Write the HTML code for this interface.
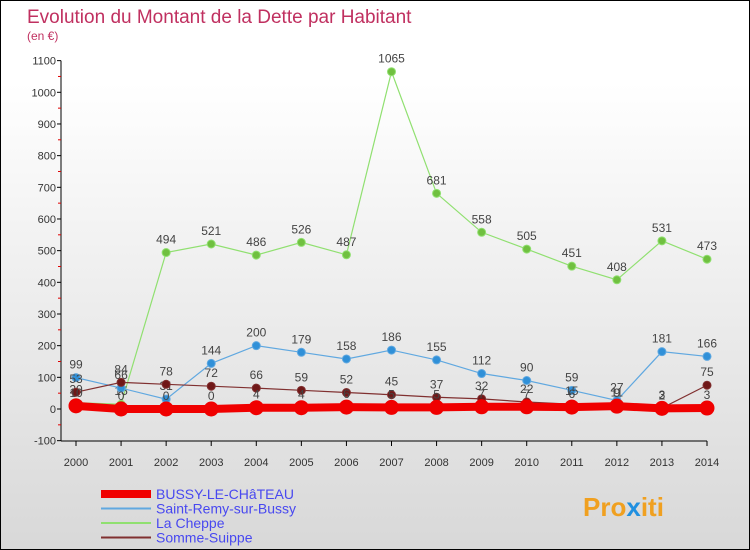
<!DOCTYPE html>
<html><head><meta charset="utf-8"><style>
body{margin:0}
#c{width:750px;height:550px;position:relative;box-sizing:border-box;border:1px solid #000;background:linear-gradient(#fff,#fff 15%,#d8d8d8);font-family:"Liberation Sans",sans-serif;overflow:hidden}
</style></head><body>
<div id="c">
<svg id="s" width="748" height="548" xmlns="http://www.w3.org/2000/svg">
<text x="26" y="22" font-size="19" fill="#c03060">Evolution du Montant de la Dette par Habitant</text>
<text x="26" y="39" font-size="12" fill="#c03060">(en €)</text>
<g id="axes"></g><g id="series"></g><g id="legend"></g>
<text x="582" y="515" font-size="26" font-weight="bold" fill="#f0a020">Pro<tspan fill="#2090e0">x</tspan>iti</text>
</svg></div>
<script>
const years=[2000,2001,2002,2003,2004,2005,2006,2007,2008,2009,2010,2011,2012,2013,2014];
const yTicks=[-100,0,100,200,300,400,500,600,700,800,900,1000,1100];
const seriesNames=["BUSSY-LE-CHâTEAU","Saint-Remy-sur-Bussy","La Cheppe","Somme-Suippe"];
const bussy=[10,0,0,0,4,4,6,5,5,7,7,6,9,2,3];
const saintRemy=[99,66,31,144,200,179,158,186,155,112,90,59,27,181,166];
const laCheppe=[20,15,494,521,486,526,487,1065,681,558,505,451,408,531,473];
const sommeSuippe=[53,84,78,72,66,59,52,45,37,32,22,15,11,3,75];
const NS="http://www.w3.org/2000/svg";
const X=i=>75+i*(631/14);
const Y=v=>408-v*0.3167;
function mk(t,a,p){const e=document.createElementNS(NS,t);for(const k in a)e.setAttribute(k,a[k]);(p||document.getElementById('series')).appendChild(e);return e;}
const ax=document.getElementById('axes');
let e=mk('line',{x1:60,y1:Y(1100),x2:60,y2:Y(-100),stroke:'#000'},ax);


e=mk('line',{x1:60,y1:440,x2:706,y2:440,stroke:'#000'},ax);


yTicks.forEach(v=>{
  mk('line',{x1:56,y1:Y(v),x2:60,y2:Y(v),stroke:'#000'},ax);
  if(v<1100)mk('line',{x1:57,y1:Y(v+50),x2:60,y2:Y(v+50),stroke:'#e00000'},ax);
  const t=mk('text',{x:55,y:Y(v)+4,'font-size':11,'text-anchor':'end',fill:'#333'},ax);
  t.textContent=v;
  
  
});
years.forEach((y,i)=>{
  mk('line',{x1:X(i),y1:440,x2:X(i),y2:445,stroke:'#000'},ax);
  const t=mk('text',{x:X(i),y:465,'font-size':11,'text-anchor':'middle',fill:'#333'},ax);
  t.textContent=y;
  
  
});
function draw(vals,color,dot,w,r,name,labels){
  const pl=mk('polyline',{points:vals.map((v,i)=>X(i)+','+Y(v)).join(' '),fill:'none',stroke:color,'stroke-width':w});
  
  
  vals.forEach((v,i)=>{
    const c=mk('circle',{cx:X(i),cy:Y(v),r:r,fill:dot,stroke:color,'stroke-width':1});
    
    
    if(labels){const t=mk('text',{x:X(i),y:Y(v)-9,'font-size':12,'text-anchor':'middle',fill:'#444'});t.textContent=v;
    
    }
  });
}
draw(laCheppe,'#90e070','#70c040',1.2,4,'la-cheppe',true);
draw(saintRemy,'#60a8e0','#3090d8',1.2,4,'saint-remy',true);
draw(sommeSuippe,'#803030','#701818',1.2,4,'somme-suippe',true);
draw(bussy,'#f00000','#f00000',8,7,'bussy',true);
const lg=document.getElementById('legend');
const cols=['#f00000','#60a8e0','#90e070','#803030'],ws=[8,2,2,2];
seriesNames.forEach((n,i)=>{
  const y=493+i*14.5;
  mk('line',{x1:100,y1:y,x2:150,y2:y,stroke:cols[i],'stroke-width':ws[i]},lg);
  const t=mk('text',{x:155,y:y+5,'font-size':14,fill:'#4848f0'},lg);
  t.textContent=n;
  
  
});
</script>
</body></html>
